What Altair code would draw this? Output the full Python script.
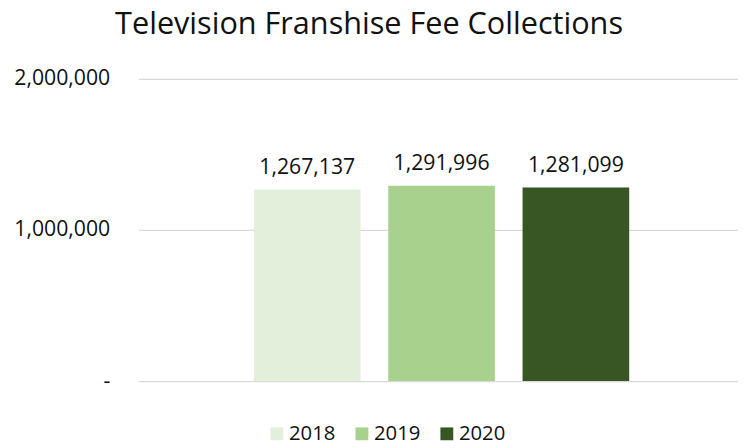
import altair as alt
import pandas as pd

years = ["2018", "2019", "2020"]
values = [1267137, 1291996, 1281099]
colors = ["#E2EFDA", "#A9D18E", "#375623"]
title_text = "Television Franshise Fee Collections"

df = pd.DataFrame({"year": years, "value": values})

FONT = "Open Sans"
TXT = "#111111"

x = alt.X(
    "year:N",
    sort=years,
    axis=None,
    scale=alt.Scale(paddingInner=0.206, paddingOuter=0.835, align=0.515),
)
y = alt.Y(
    "value:Q",
    scale=alt.Scale(domain=[0, 2000000], nice=False),
    axis=alt.Axis(
        values=[0, 1000000, 2000000],
        title=None,
        ticks=False,
        domain=False,
        gridColor="#D9D9D9",
        gridWidth=1.3,
        labelFont=FONT,
        labelFontSize=21.5,
        labelColor=TXT,
        labelPadding=29,
        labelExpr="datum.value == 0 ? '-\u00a0\u00a0' : format(datum.value, ',')",
    ),
)

bars = alt.Chart(df).mark_bar().encode(
    x=x,
    y=y,
    color=alt.Color(
        "year:N",
        sort=years,
        scale=alt.Scale(domain=years, range=colors),
        legend=alt.Legend(
            title=None,
            orient="none",
            direction="horizontal",
            legendX=130,
            legendY=349,
            symbolType="square",
            symbolSize=169,
            symbolStrokeWidth=0,
            labelFont=FONT,
            labelFontSize=20.5,
            labelColor=TXT,
            labelOffset=2,
            columnPadding=16,
        ),
    ),
)

labels = alt.Chart(df).mark_text(
    font=FONT, fontSize=21.5, color=TXT, dy=-16, baseline="alphabetic"
).encode(
    x=alt.X("year:N", sort=years),
    y="value:Q",
    text=alt.Text("value:Q", format=","),
)

chart = (
    alt.layer(bars, labels)
    .properties(
        width=607,
        height=306,
        autosize=alt.AutoSizeParams(type="none"),
        padding={"left": 132, "top": 69, "right": 0, "bottom": 65},
        title=alt.TitleParams(
            title_text,
            font=FONT,
            fontSize=31,
            fontWeight="normal",
            color=TXT,
            anchor="middle",
            dx=-70,
            offset=27,
        ),
    )
    .configure_view(stroke=None)
)

chart.save("out.html", embed_options={"renderer": "svg", "actions": False})
